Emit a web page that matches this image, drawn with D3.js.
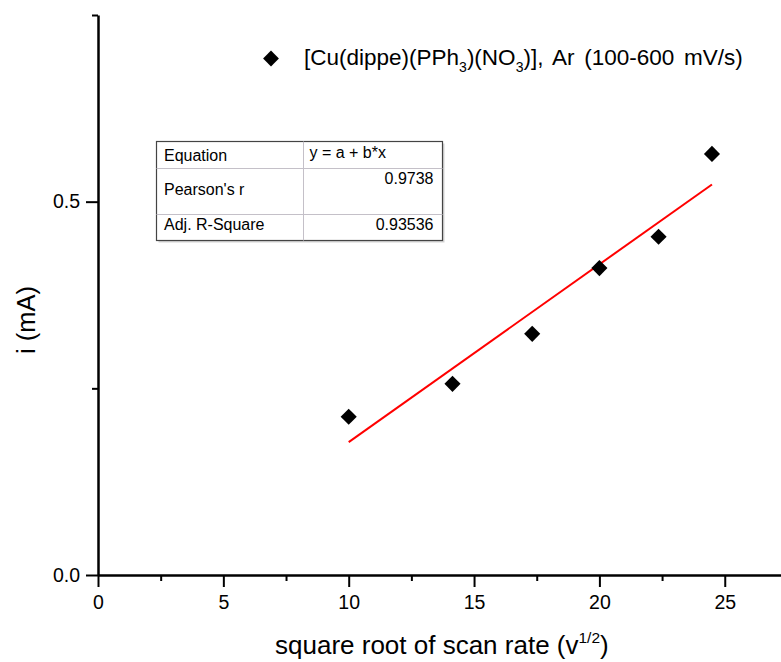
<!DOCTYPE html>
<html>
<head>
<meta charset="utf-8">
<script src="https://cdn.jsdelivr.net/npm/d3@7"></script>
<style>
  body { margin: 0; background: #fff; }
  text { font-family: "Liberation Sans", Arial, sans-serif; fill: #000; }
</style>
</head>
<body>
<div id="canvas"></div>
<script>
// data
const scanRoot = [10, 14.14, 17.32, 20, 22.36, 24.49];
const current = [0.212, 0.256, 0.323, 0.411, 0.453, 0.564];
const fitX = [10, 24.49];
const fitY = [0.178, 0.523];
const xTicks = [0, 5, 10, 15, 20, 25];
const xMinor = [2.5, 7.5, 12.5, 17.5, 22.5, 27.5];
const yTicks = [0.0, 0.5];
const yMinor = [0.25, 0.75];
const tableLabels = ["Equation", "Pearson's r", "Adj. R-Square"];
const tableValues = ["y = a + b*x", "0.9738", "0.93536"];

const width = 781;
const height = 662;
const margin = { top: 15, left: 98, bottom: 87, right: 0 };

const svg = d3.select("#canvas").append("svg")
  .attr("width", width)
  .attr("height", height);

svg.append("rect").attr("width", width).attr("height", height).attr("fill", "#fff");

const x = d3.scaleLinear().domain([0, 28]).range([margin.left, margin.left + 28 * 25.07]);
const y = d3.scaleLinear().domain([0, 0.75]).range([height - margin.bottom, margin.top]);

// x axis
const xAxis = svg.append("g")
  .attr("transform", `translate(0,${y(0)})`)
  .call(d3.axisBottom(x).tickValues(xTicks).tickFormat(d3.format("d")).tickSize(12).tickSizeOuter(0).tickPadding(8));
xAxis.append("g")
  .call(d3.axisBottom(x).tickValues(xMinor).tickFormat("").tickSize(6).tickSizeOuter(0))
  .select(".domain").remove();
xAxis.selectAll("text").attr("font-size", 19.5);

// y axis
const yAxis = svg.append("g")
  .attr("transform", `translate(${x(0)},0)`)
  .call(d3.axisLeft(y).tickValues(yTicks).tickFormat(d3.format(".1f")).tickSize(12).tickSizeOuter(0).tickPadding(6));
yAxis.append("g")
  .call(d3.axisLeft(y).tickValues(yMinor).tickFormat("").tickSize(6).tickSizeOuter(0))
  .select(".domain").remove();
yAxis.selectAll("text").attr("font-size", 19.5);

svg.selectAll(".domain").attr("stroke", "#000").attr("stroke-width", 2.5);
svg.selectAll(".tick line").attr("stroke", "#000").attr("stroke-width", 2);
svg.selectAll(".tick text").attr("fill", "#000").attr("font-family", "Liberation Sans, Arial, sans-serif");

// axis titles
svg.append("text")
  .attr("transform", "translate(35,320) rotate(-90)")
  .attr("text-anchor", "middle")
  .attr("font-size", 25.5)
  .text("i (mA)");

const xt = svg.append("text")
  .attr("x", 275)
  .attr("y", 654)
  .attr("font-size", 26);
xt.append("tspan").text("square root of scan rate (v");
xt.append("tspan").attr("dy", -11).attr("font-size", 15.5).text("1/2");
xt.append("tspan").attr("dy", 11).text(")");

// fit line
svg.append("line")
  .attr("x1", x(fitX[0])).attr("y1", y(fitY[0]))
  .attr("x2", x(fitX[1])).attr("y2", y(fitY[1]))
  .attr("stroke", "#ff0000")
  .attr("stroke-width", 2);

// points
const diamond = d3.symbol().type(d3.symbolSquare).size(130);
svg.selectAll(".pt")
  .data(scanRoot)
  .enter()
  .append("path")
  .attr("class", "pt")
  .attr("d", diamond)
  .attr("transform", (d, i) => `translate(${x(d)},${y(current[i])}) rotate(45)`)
  .attr("fill", "#000");

// legend
svg.append("path")
  .attr("d", d3.symbol().type(d3.symbolSquare).size(125))
  .attr("transform", "translate(271,58.5) rotate(45)")
  .attr("fill", "#000");
const lg = svg.append("text").attr("x", 304).attr("y", 65).attr("font-size", 22.5).attr("word-spacing", 3.5);
lg.append("tspan").text("[Cu(dippe)(PPh");
lg.append("tspan").attr("dy", 7).attr("font-size", 14).text("3");
lg.append("tspan").attr("dy", -7).text(")(NO");
lg.append("tspan").attr("dy", 7).attr("font-size", 14).text("3");
lg.append("tspan").attr("dy", -7).text(")], Ar (100-600 mV/s)");

// stats table
const tb = { x: 156.5, y: 141.5, w: 286, col: 147, rows: [141.5, 168.5, 214.5, 240.5] };
const t = svg.append("g");
t.append("rect")
  .attr("x", tb.x + 2).attr("y", tb.y + 2)
  .attr("width", tb.w).attr("height", tb.rows[3] - tb.rows[0])
  .attr("fill", "#d4d4d4");
t.append("rect")
  .attr("x", tb.x).attr("y", tb.y)
  .attr("width", tb.w).attr("height", tb.rows[3] - tb.rows[0])
  .attr("fill", "#fff")
  .attr("stroke", "#444")
  .attr("stroke-width", 1.2);
t.selectAll(".hline")
  .data([tb.rows[1], tb.rows[2]])
  .enter()
  .append("line")
  .attr("x1", tb.x).attr("x2", tb.x + tb.w)
  .attr("y1", d => d).attr("y2", d => d)
  .attr("stroke", "#c4c0c8");
t.append("line")
  .attr("x1", tb.x + tb.col).attr("x2", tb.x + tb.col)
  .attr("y1", tb.rows[0]).attr("y2", tb.rows[3])
  .attr("stroke", "#c4c0c8");
const labelY = [161, 195, 230];
const valueY = [158, 184, 230];
t.selectAll(".tl")
  .data(tableLabels)
  .enter()
  .append("text")
  .attr("x", tb.x + 7.5)
  .attr("y", (d, i) => labelY[i])
  .attr("font-size", 16)
  .text(d => d);
t.selectAll(".tv")
  .data(tableValues)
  .enter()
  .append("text")
  .attr("x", (d, i) => i === 0 ? tb.x + tb.col + 6 : tb.x + tb.w - 9)
  .attr("y", (d, i) => valueY[i])
  .attr("text-anchor", (d, i) => i === 0 ? "start" : "end")
  .attr("font-size", 16)
  .text(d => d);
</script>
</body>
</html>
